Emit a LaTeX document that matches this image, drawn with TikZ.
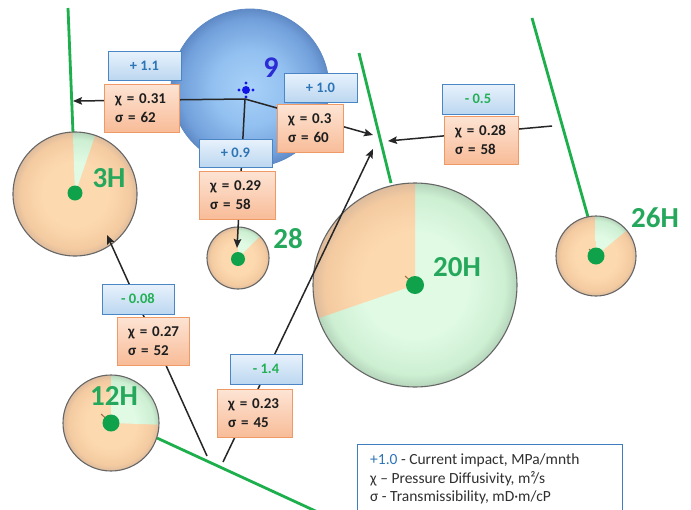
\documentclass[tikz,border=0pt]{standalone}
\usepackage{fontspec}
\setmainfont{Carlito}
\usetikzlibrary{arrows.meta}

% palette
\definecolor{faultgreen}{HTML}{1CAF4C}
\definecolor{wellgreen}{HTML}{0FA24A}
\definecolor{labelgreen}{HTML}{25A85C}
\definecolor{impblue}{HTML}{2E75B6}
\definecolor{impgreen}{HTML}{22B055}
\definecolor{impedge}{HTML}{4A86C5}
\definecolor{impTop}{HTML}{E8F2FC}
\definecolor{impBot}{HTML}{BCD7F0}
\definecolor{paredge}{HTML}{EF9A66}
\definecolor{parTop}{HTML}{FDE4D4}
\definecolor{parBot}{HTML}{F8BC98}
\definecolor{partext}{HTML}{1E1E1E}
\definecolor{markblue}{HTML}{1414E6}
\definecolor{ninecolor}{HTML}{2C2CD6}
\definecolor{connc}{HTML}{262626}
\definecolor{legendedge}{HTML}{3E7EC0}
\definecolor{legendtext}{HTML}{303030}
\definecolor{rimgray}{HTML}{666666}
\definecolor{tickbrown}{HTML}{9C6B45}
\definecolor{peachA}{HTML}{FDD9B0}
\definecolor{peachB}{HTML}{F4CBA1}
\definecolor{peachC}{HTML}{DDBB9C}
\definecolor{mintA}{HTML}{E0FAE4}
\definecolor{mintB}{HTML}{CDEFD2}
\definecolor{mintC}{HTML}{B5D5BA}
\definecolor{skyA}{HTML}{A8D1F8}
\definecolor{skyB}{HTML}{92C0F0}
\definecolor{skyC}{HTML}{719FDA}
\definecolor{skyD}{HTML}{5F8AC6}

% radial fills: the circle edge sits at 25bp
\pgfdeclareradialshading{peachball}{\pgfpoint{0bp}{0bp}}{color(0bp)=(peachA); color(13bp)=(peachA); color(22bp)=(peachB); color(25bp)=(peachC); color(50bp)=(peachC)}
\pgfdeclareradialshading{mintball}{\pgfpoint{0bp}{0bp}}{color(0bp)=(mintA); color(13bp)=(mintA); color(22bp)=(mintB); color(25bp)=(mintC); color(50bp)=(mintC)}
\pgfdeclareradialshading{skyball}{\pgfpoint{0bp}{0bp}}{color(0bp)=(skyA); color(12bp)=(skyB); color(22bp)=(skyC); color(25bp)=(skyD); color(50bp)=(skyD)}

% well circle: x, y, radius, sector start, sector end (screen angles), base shading, sector shading
\newcommand{\wellpie}[7]{%
  \shade[shading=#6] (#1,#2) circle[radius=#3];
  \begin{scope}
    \clip (#1,#2) -- ++(#4:#3) arc[start angle=#4, end angle=#5, radius=#3] -- cycle;
    \shade[shading=#7] (#1,#2) circle[radius=#3];
  \end{scope}
  \draw[wellrim] (#1,#2) circle[radius=#3];
}

% diffusivity and transmissibility pair, one per line
\newcommand{\chisig}[2]{\mbox{χ = #1}\\\mbox{σ = #2}}

\tikzset{
  fault/.style={draw=faultgreen, line width=2.8pt},
  wellrim/.style={draw=rimgray, line width=1.1pt},
  conn/.style={draw=connc, line width=1.5pt, -{Stealth[length=9pt,width=7.5pt,inset=1.5pt]}},
  welldot/.style={circle, fill=wellgreen, inner sep=0pt, minimum size=#1},
  welltick/.style={draw=tickbrown, line width=1pt},
  impact/.style={draw=impedge, line width=0.9pt, top color=impTop, bottom color=impBot,
    minimum width=73pt, minimum height=29pt, inner sep=0pt,
    font=\bfseries\fontsize{14.5}{16}\selectfont},
  params/.style={draw=paredge, line width=0.9pt, top color=parTop, bottom color=parBot,
    text width=#1, align=left, inner xsep=11pt, inner ysep=0pt, minimum height=48pt,
    text=partext, font=\bfseries\fontsize{15}{19}\selectfont},
  welllabel/.style={text=labelgreen, inner sep=0pt, font=\bfseries\fontsize{29}{30}\selectfont}
}

\begin{document}
\begin{tikzpicture}[x=1pt,y=-1pt]
\path[use as bounding box] (0,0) rectangle (691,509);
\clip (0,0) rectangle (691,509);
\fill[white] (0,0) rectangle (691,509);

% fault traces
\draw[fault] (68,8) -- (73,133);
\draw[fault] (359,53) -- (391,183);
\draw[fault] (532,18) -- (588,217);
\draw[fault] (157,438) -- (335,520);

% drainage circles of the wells
\wellpie{75}{194}{62}{-92}{-71}{peachball}{mintball}
\wellpie{238}{258}{31}{-88}{-45}{peachball}{mintball}
\wellpie{415}{285}{102}{-199}{-90}{mintball}{peachball}
\wellpie{596}{256}{40}{-91}{-40}{peachball}{mintball}
\wellpie{111}{423}{48}{-90}{2}{peachball}{mintball}

% injection well 9
\shade[shading=skyball] (250,88) circle[radius=79];
\draw[skyD, line width=0.8pt] (250,88) circle[radius=79];

% well heads
\draw[welltick] (415,285) -- ++(-10,-9);
\draw[welltick] (111,423) -- ++(-10,-9);
\draw[welltick] (596,256) -- ++(-7,-7);
\node[welldot=15pt] (w3H) at (75,193) {};
\node[welldot=14pt] (w28) at (238,259) {};
\node[welldot=18pt] (w20H) at (415,285) {};
\node[welldot=17pt] (w26H) at (596,256) {};
\node[welldot=17pt] (w12H) at (111,423) {};

% connector ends
\coordinate (src) at (245,99);
\coordinate (t3) at (73,101);
\coordinate (t28) at (237,248);
\coordinate (t20a) at (373,135);
\coordinate (s26) at (552,126);
\coordinate (t20b) at (388,141);
\coordinate (s3) at (207,456);
\coordinate (t3H) at (107,235);
\coordinate (s20) at (223,462);
\coordinate (t20c) at (373,149);

\draw[conn] (src) -- (t3);
\draw[conn] (src) -- (t28);
\draw[conn] (src) -- (t20a);
\draw[conn] (s26) -- (t20b);
\draw[conn] (s3) -- (t3H);
\draw[conn] (s20) -- (t20c);

% impact and parameter boxes
\node[impact, text=impblue] (i31) at (144.5,65.5) {+ 1.1};
\node[params=53pt] (p31) at (141.5,108) {\chisig{0.31}{62}};
\node[impact, text=impblue] (i30) at (320.5,87.5) {+ 1.0};
\node[params=44pt] (p30) at (310,128.5) {\chisig{0.3}{60}};
\node[impact, text=impblue, minimum height=28pt] (i29) at (235.5,153) {+ 0.9};
\node[params=54pt] (p29) at (237,195) {\chisig{0.29}{58}};
\node[impact, text=impgreen, minimum width=72pt, minimum height=30pt] (i28) at (478,99) {- 0.5};
\node[params=52pt] (p28) at (481,140) {\chisig{0.28}{58}};
\node[impact, text=impgreen, minimum width=72pt, minimum height=30pt] (i27) at (138,299) {- 0.08};
\node[params=50pt] (p27) at (153,341) {\chisig{0.27}{52}};
\node[impact, text=impgreen, minimum width=72pt, minimum height=30pt] (i23) at (266,369) {- 1.4};
\node[params=53pt] (p23) at (254.5,413.5) {\chisig{0.23}{45}};

% target marker of well 9
\node[circle, fill=markblue, inner sep=0pt, minimum size=8pt] (m9) at (246,90) {};
\foreach \a in {0,90,180,270}
  \fill[markblue] (m9.center) ++(\a:7) circle[radius=1.6];

% well names
\node[text=ninecolor, inner sep=0pt, font=\bfseries\fontsize{30}{30}\selectfont] (l9) at (271,68) {9};
\node[welllabel] (l3H) at (109,178) {3H};
\node[welllabel] (l28) at (288,239) {28};
\node[welllabel] (l20H) at (457,267) {20H};
\node[welllabel] (l26H) at (655,218) {26H};
\node[welllabel] (l12H) at (114,396) {12H};

% legend
\draw[legendedge, line width=0.9pt, fill=white] (357,444) rectangle (622,530);
\node[anchor=west, align=left, inner sep=0pt, text=legendtext,
      font=\fontsize{15.5}{18.5}\selectfont] (legend) at (370,479)
  {\textcolor{impblue}{+1.0} - Current impact, MPa/mnth\\
   χ – Pressure Diffusivity, m²/s\\
   σ - Transmissibility, mD·m/cP};
\end{tikzpicture}
\end{document}
